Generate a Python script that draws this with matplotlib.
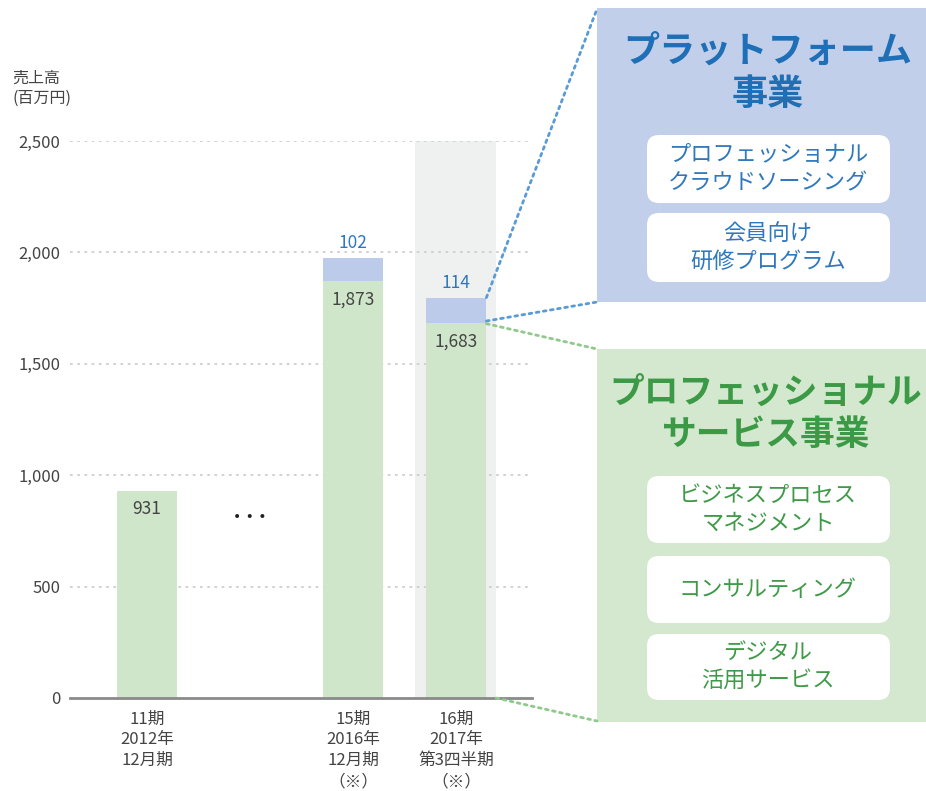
import matplotlib
matplotlib.use("Agg")
import matplotlib.pyplot as plt
from matplotlib.patches import FancyBboxPatch, Rectangle, ConnectionPatch

plt.rcParams['font.family'] = ['Noto Sans CJK JP', 'DejaVu Sans']

# data
positions = [0, 2, 3]
periods = ["11期\n2012年\n12月期", "15期\n2016年\n12月期\n（※）", "16期\n2017年\n第3四半期\n（※）"]
professional = [931, 1873, 1683]
platform = [0, 102, 114]
yticks = [0, 500, 1000, 1500, 2000, 2500]

platform_items = ["プロフェッショナル\nクラウドソーシング", "会員向け\n研修プログラム"]
professional_items = ["ビジネスプロセス\nマネジメント", "コンサルティング", "デジタル\n活用サービス"]

green = '#cfe6ca'
blue = '#bdcbea'
blue_txt = '#2f78be'
green_txt = '#3f9a48'
gray_txt = '#444444'

W, H = 926, 791
fig = plt.figure(figsize=(W / 100, H / 100), dpi=100)
ax = fig.add_axes([70 / W, 93 / H, 462 / W, 557 / H])

bw = 0.59
ax.axvspan(2.6, 3.39, color='#eff0f0', zorder=0, lw=0)
for y in yticks[1:]:
    ax.axhline(y, color='#cfcfcf', lw=1.3, ls=(0, (1.5, 2.5)), zorder=1)

ax.bar(positions, professional, width=bw, color=green, zorder=2)
ax.bar(positions, platform, width=bw, bottom=professional, color=blue, zorder=2)

for x, p, q in zip(positions, professional, platform):
    ax.annotate(f"{p:,}", (x, p), xytext=(0, -7), textcoords='offset points',
                ha='center', va='top', fontsize=12.5, color=gray_txt, zorder=3)
    if q:
        ax.annotate(f"{q:,}", (x, p + q), xytext=(0, 4), textcoords='offset points',
                    ha='center', va='bottom', fontsize=12.5, color=blue_txt, zorder=3)

ax.text(1, 812, "• • •", ha='center', va='center', fontsize=10, color='#222222',
        family='DejaVu Sans')

ax.set_xlim(-0.748, 3.738)
ax.set_ylim(0, 2500)
ax.set_yticks(yticks)
ax.set_yticklabels([f"{v:,}" for v in yticks], fontsize=12, color=gray_txt)
ax.set_xticks(positions)
ax.set_xticklabels(periods, fontsize=12, color=gray_txt, linespacing=1.3, va='top')
ax.tick_params(axis='y', length=0, pad=7)
ax.tick_params(axis='x', length=0, pad=9)
for s in ['left', 'right', 'top']:
    ax.spines[s].set_visible(False)
ax.spines['bottom'].set_color('#8a8a8a')
ax.spines['bottom'].set_linewidth(2)
ax.spines['bottom'].set_zorder(4)

fig.text(12 / W, 1 - 88 / H, "売上高\n(百万円)", fontsize=11.5, color=gray_txt,
         ha='left', va='center', linespacing=1.25)

# overlay in pixel coords (top origin)
ov = fig.add_axes([0, 0, 1, 1])
ov.set_xlim(0, W)
ov.set_ylim(H, 0)
ov.axis('off')
ov.set_zorder(5)

ov.add_patch(Rectangle((597, 8), 329, 294, color='#c2cfeb', lw=0))
ov.add_patch(Rectangle((597, 349), 329, 373, color='#d3e8cf', lw=0))

ov.text(768, 73, "プラットフォーム\n事業", ha='center', va='center', fontsize=26,
        fontweight='bold', color='#1f6fb6', linespacing=1.22)
ov.text(766, 413, "プロフェッショナル\nサービス事業", ha='center', va='center', fontsize=25,
        fontweight='bold', color='#3c9a46', linespacing=1.25)

blue_boxes = [(135, 68), (213, 69)]
for (top, h), label in zip(blue_boxes, platform_items):
    ov.add_patch(FancyBboxPatch((647, top), 243, h, boxstyle='round,pad=0,rounding_size=12',
                                fc='white', ec='none'))
    ov.text(768, top + h / 2, label, ha='center', va='center', fontsize=16,
            color=blue_txt, linespacing=1.3)

green_boxes = [(476, 67), (556, 67), (634, 66)]
for (top, h), label in zip(green_boxes, professional_items):
    ov.add_patch(FancyBboxPatch((647, top), 243, h, boxstyle='round,pad=0,rounding_size=12',
                                fc='white', ec='none'))
    ov.text(768, top + h / 2, label, ha='center', va='center', fontsize=16,
            color=green_txt, linespacing=1.3)

# connectors
links = [((3 + bw / 2, 1797), (597, 9), '#5a9bd6'),
         ((3 + bw / 2, 1692), (597, 302), '#5a9bd6'),
         ((3 + bw / 2, 1680), (597, 349), '#8fc98b'),
         ((3.39, 0), (597, 721), '#8fc98b')]
for a, b, c in links:
    fig.add_artist(ConnectionPatch(a, b, coordsA='data', coordsB='data', axesA=ax, axesB=ov,
                                   color=c, lw=2, ls=(0, (1, 1.6)), zorder=6))

fig.savefig("out.png", dpi=100)
